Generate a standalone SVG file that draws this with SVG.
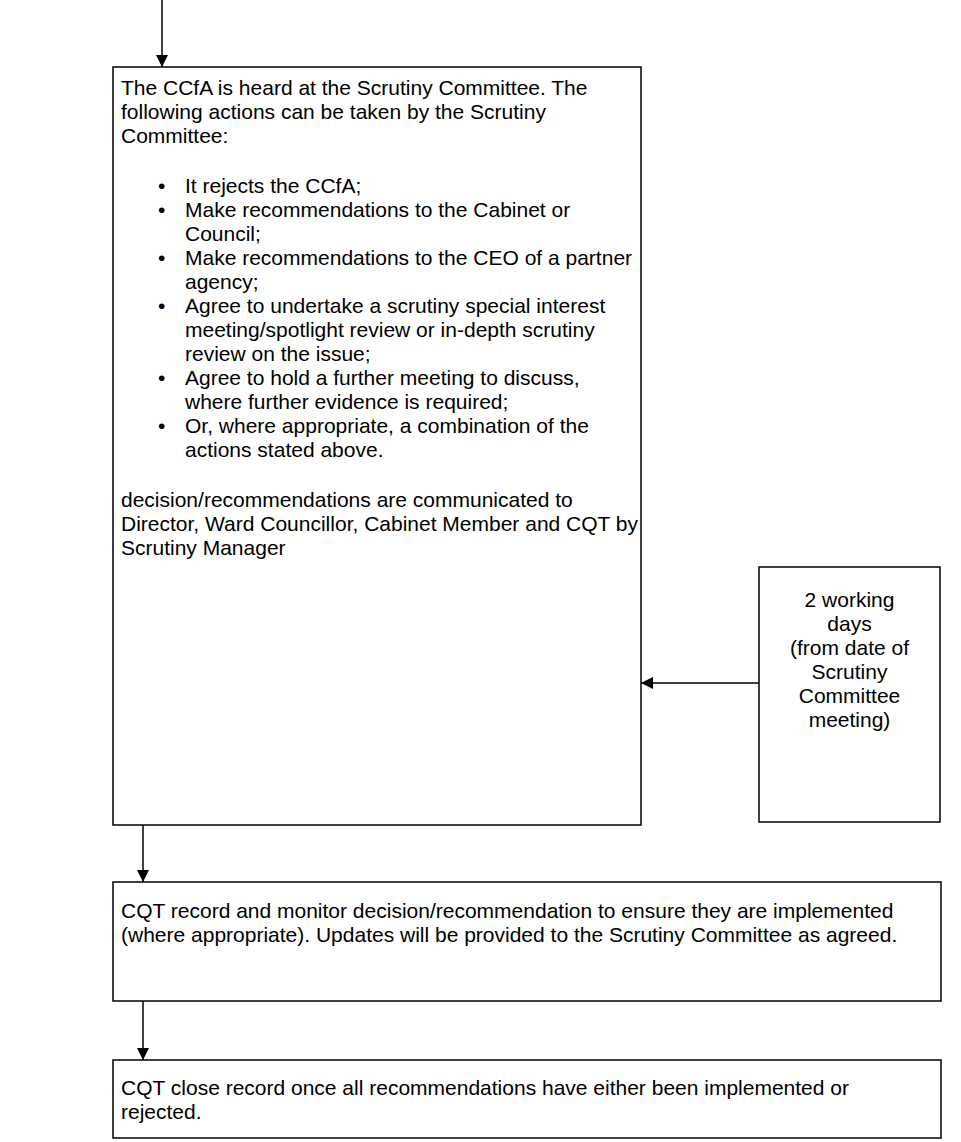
<svg xmlns="http://www.w3.org/2000/svg" width="961" height="1142" viewBox="0 0 961 1142">
<style>
.box{fill:#fff;stroke:#000;stroke-width:1.5}
.t{font-family:"Liberation Sans",Arial,sans-serif;font-size:21px;fill:#000}
.c{text-anchor:middle}
.ln{stroke:#000;stroke-width:1.5;fill:none}
</style>
<defs>
<marker id="ah" viewBox="0 0 10 10" refX="10" refY="5" markerWidth="8" markerHeight="8" markerUnits="userSpaceOnUse" orient="auto">
<path d="M0,0 L10,5 L0,10 z" fill="#000"/>
</marker>
<marker id="ah2" viewBox="0 0 10 10" refX="10" refY="5" markerWidth="12" markerHeight="12" markerUnits="userSpaceOnUse" orient="auto">
<path d="M0,0 L10,5 L0,10 z" fill="#000"/>
</marker>
</defs>
<g id="main">
<rect class="box" x="113" y="67" width="528" height="758"/>
<text class="t" x="121" y="95">The CCfA is heard at the Scrutiny Committee. The</text>
<text class="t" x="121" y="119">following actions can be taken by the Scrutiny</text>
<text class="t" x="121" y="143">Committee:</text>
<text class="t" x="158" y="193">•</text><text class="t" x="185" y="193">It rejects the CCfA;</text>
<text class="t" x="158" y="217">•</text><text class="t" x="185" y="217">Make recommendations to the Cabinet or</text>
<text class="t" x="185" y="241">Council;</text>
<text class="t" x="158" y="265">•</text><text class="t" x="185" y="265">Make recommendations to the CEO of a partner</text>
<text class="t" x="185" y="289">agency;</text>
<text class="t" x="158" y="313">•</text><text class="t" x="185" y="313">Agree to undertake a scrutiny special interest</text>
<text class="t" x="185" y="337">meeting/spotlight review or in-depth scrutiny</text>
<text class="t" x="185" y="361">review on the issue;</text>
<text class="t" x="158" y="385">•</text><text class="t" x="185" y="385">Agree to hold a further meeting to discuss,</text>
<text class="t" x="185" y="409">where further evidence is required;</text>
<text class="t" x="158" y="433">•</text><text class="t" x="185" y="433">Or, where appropriate, a combination of the</text>
<text class="t" x="185" y="457">actions stated above.</text>
<text class="t" x="121" y="507">decision/recommendations are communicated to</text>
<text class="t" x="121" y="531">Director, Ward Councillor, Cabinet Member and CQT by</text>
<text class="t" x="121" y="555">Scrutiny Manager</text>
</g>
<g id="days">
<rect class="box" x="759" y="567" width="181" height="255"/>
<text class="t c" x="849.5" y="607">2 working</text>
<text class="t c" x="849.5" y="631">days</text>
<text class="t c" x="849.5" y="655">(from date of</text>
<text class="t c" x="849.5" y="679">Scrutiny</text>
<text class="t c" x="849.5" y="703">Committee</text>
<text class="t c" x="849.5" y="727">meeting)</text>
</g>
<g id="monitor">
<rect class="box" x="113" y="882" width="828" height="119"/>
<text class="t" x="121" y="918">CQT record and monitor decision/recommendation to ensure they are implemented</text>
<text class="t" x="121" y="942">(where appropriate). Updates will be provided to the Scrutiny Committee as agreed.</text>
</g>
<g id="close">
<rect class="box" x="113" y="1060" width="828" height="78"/>
<text class="t" x="121" y="1095">CQT close record once all recommendations have either been implemented or</text>
<text class="t" x="121" y="1119">rejected.</text>
</g>
<g id="connectors">
<line class="ln" x1="162" y1="0" x2="162" y2="67" marker-end="url(#ah2)"/>
<line class="ln" x1="759" y1="683" x2="641" y2="683" marker-end="url(#ah2)"/>
<line class="ln" x1="143" y1="825" x2="143" y2="882" marker-end="url(#ah2)"/>
<line class="ln" x1="143" y1="1001" x2="143" y2="1060" marker-end="url(#ah2)"/>
</g>
</svg>
